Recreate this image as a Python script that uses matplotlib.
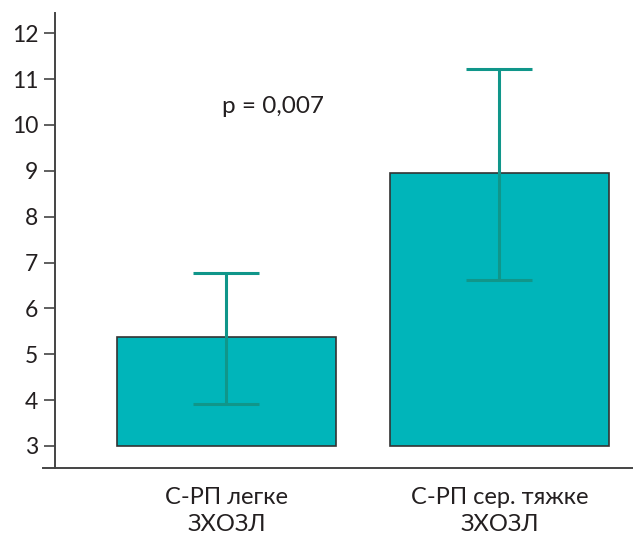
import matplotlib
matplotlib.use('Agg')
import matplotlib.pyplot as plt

plt.rcParams['font.family'] = ['Lato', 'DejaVu Sans']

categories = ["С-РП легке\nЗХОЗЛ", "С-РП сер. тяжке\nЗХОЗЛ"]
means = [5.37, 8.96]
err_low = [3.91, 6.62]
err_high = [6.77, 11.21]
baseline = 3
p_text = "p = 0,007"

x = list(range(len(categories)))
heights = [m - baseline for m in means]
yerr = [[m - lo for m, lo in zip(means, err_low)],
        [hi - m for m, hi in zip(means, err_high)]]

fig = plt.figure(figsize=(6.33, 5.39), dpi=100)
ax = fig.add_axes([43 / 633, (539 - 468) / 539, 590 / 633, (468 - 13) / 539])

ax.bar(x, heights, bottom=baseline, width=0.8, color="#00B5BA",
       edgecolor="#333333", linewidth=1.2, zorder=2)
ax.errorbar(x, means, yerr=yerr, fmt="none", ecolor="#10968A",
            elinewidth=2.2, capsize=24, capthick=2.2, zorder=3)

ax.text(-0.017, 10.41, p_text, ha="left", va="center", fontsize=17.5,
        color="#231F20")

ax.set_xlim(-0.672, 1.489)
ax.set_ylim(2.52, 12.44)
ax.set_yticks(range(3, 13))
ax.set_xticks(x)
ax.set_xticklabels(categories, fontsize=17, color="#231F20", linespacing=1.3)

ax.spines["top"].set_visible(False)
ax.spines["right"].set_visible(False)
ax.spines["left"].set_position(("data", -0.628))
for s in ("left", "bottom"):
    ax.spines[s].set_color("#444444")
    ax.spines[s].set_linewidth(1.4)

ax.tick_params(axis="y", length=8, width=1.2, color="#444444",
               labelsize=16.5, labelcolor="#231F20", pad=4)
ax.tick_params(axis="x", length=0, pad=14)

fig.savefig("out.png", dpi=100)
plt.close(fig)
